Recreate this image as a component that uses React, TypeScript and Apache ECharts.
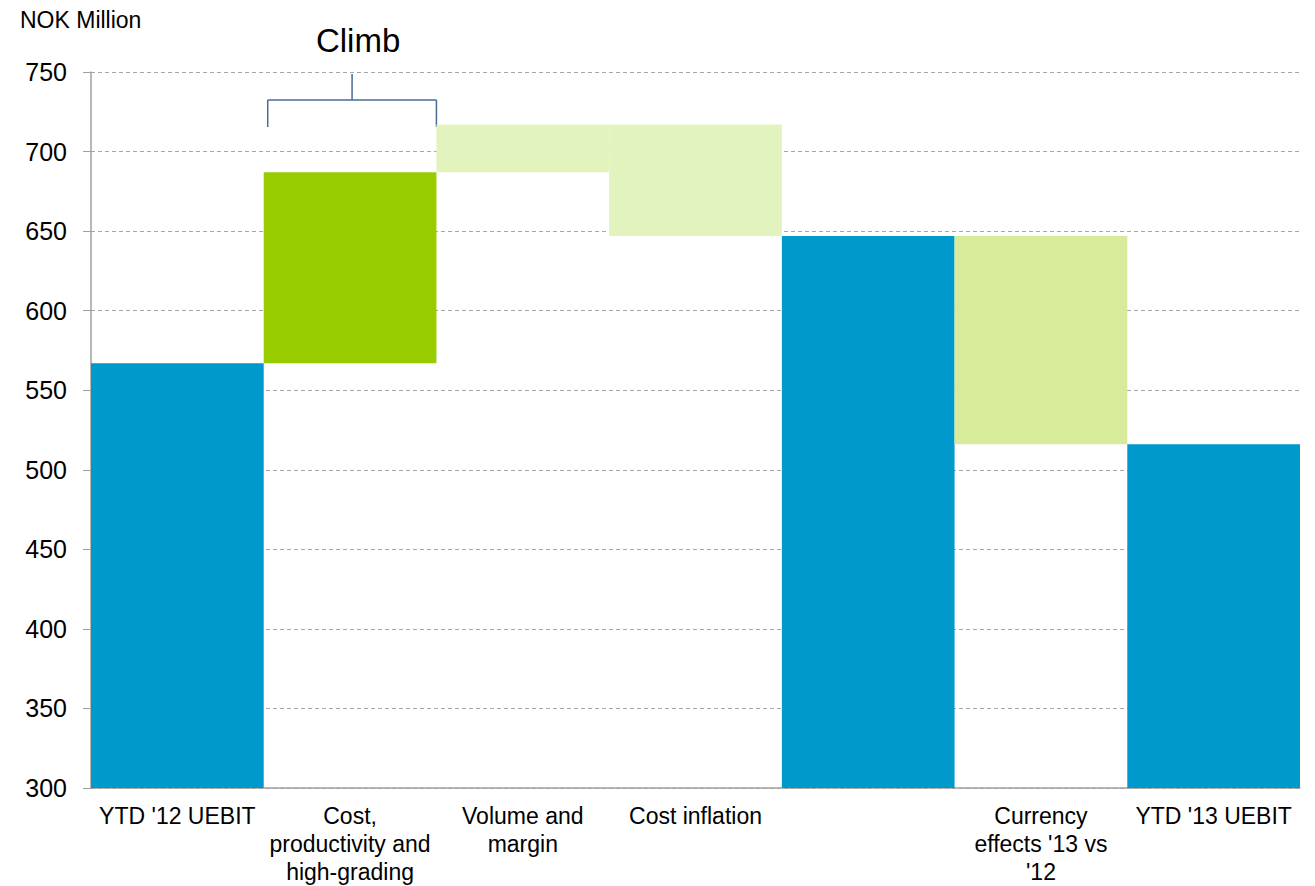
import React, { useEffect, useRef } from "react";
import * as echarts from "echarts";

const categories = [
  "YTD '12 UEBIT",
  "Cost,\nproductivity and\nhigh-grading",
  "Volume and\nmargin",
  "Cost inflation",
  "",
  "Currency\neffects '13 vs\n'12",
  "YTD '13 UEBIT",
];
// 'total' bars stand on the axis, 'delta' bars float from the running total
const stepValues = [567, 120, 30, -70, 647, -131, 516];
const stepKinds = ["total", "delta", "delta", "delta", "total", "delta", "total"];
const stepColors = ["#0099CC", "#99CC00", "#E3F3BE", "#E3F3BE", "#0099CC", "#D7EB9B", "#0099CC"];
const yTicks = { min: 300, max: 750, interval: 50 };
const unitLabel = "NOK Million";
const bracketLabel = "Climb";
const bracketCategory = 1;

const FONT = "'Liberation Sans', Arial, sans-serif";

function buildWaterfall() {
  const base: number[] = [];
  const height: number[] = [];
  let running = 0;
  stepValues.forEach((v, i) => {
    if (stepKinds[i] === "total") {
      base.push(0);
      height.push(v);
      running = v;
    } else {
      const next = running + v;
      base.push(Math.min(running, next));
      height.push(Math.abs(v));
      running = next;
    }
  });
  return { base, height };
}

export default function App() {
  const ref = useRef<HTMLDivElement>(null);
  useEffect(() => {
    if (!ref.current) return;
    const chart = echarts.init(ref.current, undefined, { renderer: "svg" });
    const { base, height } = buildWaterfall();
    chart.setOption({
      animation: false,
      backgroundColor: "#ffffff",
      grid: { left: 91, right: 15, top: 72, bottom: 98, containLabel: false },
      xAxis: {
        type: "category",
        data: categories,
        axisLine: { show: true, lineStyle: { color: "#A0A0A0", width: 1.5 } },
        axisTick: { show: false },
        axisLabel: {
          interval: 0,
          color: "#000",
          fontFamily: FONT,
          fontSize: 23,
          lineHeight: 28,
          margin: 14,
          align: "center",
        },
      },
      yAxis: {
        type: "value",
        min: yTicks.min,
        max: yTicks.max,
        interval: yTicks.interval,
        axisLine: { show: true, lineStyle: { color: "#A0A0A0", width: 1.5 } },
        axisTick: { show: true, length: 8, lineStyle: { color: "#A0A0A0" } },
        axisLabel: { color: "#000", fontFamily: FONT, fontSize: 25, margin: 24 },
        splitLine: { show: true, lineStyle: { color: "#A6A6A6", type: [4, 3], width: 1 } },
      },
      series: [
        {
          type: "bar",
          stack: "wf",
          data: base,
          itemStyle: { color: "transparent" },
          barCategoryGap: "0%",
          silent: true,
        },
        {
          type: "bar",
          stack: "wf",
          barCategoryGap: "0%",
          data: height.map((h, i) => ({ value: h, itemStyle: { color: stepColors[i] } })),
        },
      ],
    });

    const cx = chart.convertToPixel({ xAxisIndex: 0 }, bracketCategory) as number;
    const cNext = chart.convertToPixel({ xAxisIndex: 0 }, bracketCategory + 1) as number;
    const band = cNext - cx;
    const yTop = chart.convertToPixel({ yAxisIndex: 0 }, yTicks.max) as number;
    const left = cx - band / 2 + 4;
    const right = cx + band / 2;
    const barY = yTop + 28;
    const legY = yTop + 55;
    const stroke = { stroke: "#4A6A96", lineWidth: 1.5 };
    chart.setOption({
      graphic: [
        {
          type: "text",
          left: 20,
          top: 8,
          style: { text: unitLabel, fontFamily: FONT, fontSize: 23, fill: "#000" },
        },
        {
          type: "text",
          x: cx + 8,
          y: yTop - 32,
          style: {
            text: bracketLabel,
            fontFamily: FONT,
            fontSize: 33,
            fill: "#000",
            align: "center",
            verticalAlign: "middle",
          },
        },
        { type: "line", shape: { x1: left, y1: legY, x2: left, y2: barY }, style: stroke },
        { type: "line", shape: { x1: left, y1: barY, x2: right, y2: barY }, style: stroke },
        { type: "line", shape: { x1: right, y1: barY, x2: right, y2: legY }, style: stroke },
        { type: "line", shape: { x1: cx + 2, y1: barY, x2: cx + 2, y2: yTop + 2 }, style: stroke },
      ],
    });
    return () => chart.dispose();
  }, []);
  return (
    <div
      ref={ref}
      style={{ position: "fixed", left: 0, top: 0, width: 1315, height: 886 }}
    />
  );
}
